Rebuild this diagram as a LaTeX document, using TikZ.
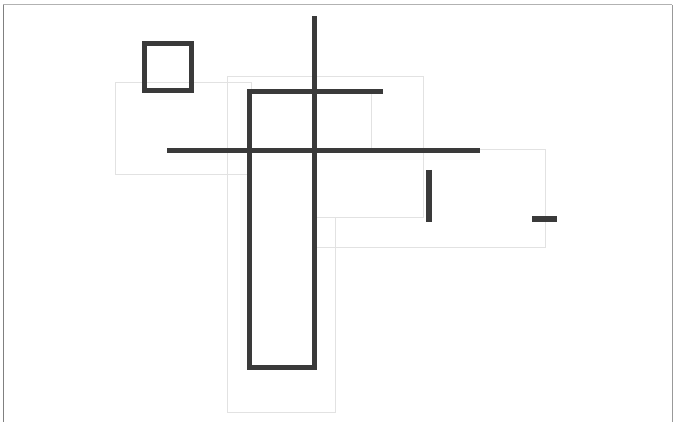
\documentclass[tikz,border=0pt]{standalone}
\usepackage{xcolor}
\usepackage{tikz}

\definecolor{inkgray}{HTML}{3A3A3A}
\definecolor{boxgray}{HTML}{E2E2E2}

\begin{document}
\begin{tikzpicture}[
  x=1pt, y=-1pt,
  stroke/.style={draw=inkgray, line width=5pt},
  bbox/.style={draw=boxgray, line width=0.7pt},
  frame/.style={line width=1pt},
]
\useasboundingbox (0,0) rectangle (675,422);

% outer frame
\draw[frame, draw=black!30] (3,5) -- (672,5);
\draw[frame, draw=black!50] (3,5) -- (3,422);
\draw[frame, draw=black!40] (672,5) -- (672,422);

% light guide boxes
\draw[bbox] (115,82) rectangle (251,174);
\draw[bbox] (316,217) -- (423,217) -- (423,76) -- (227,76) -- (227,412) -- (335,412) -- (335,217);
\draw[bbox] (371,92) -- (371,148);
\draw[bbox] (480,149) -- (545,149) -- (545,247) -- (315,247);

% strokes
\draw[stroke] (144,44) rectangle (191,91);
\draw[stroke, line join=miter] (383,92) -- (249,92) -- (249,367) -- (314,367) -- (314,16);
\draw[stroke] (167,151) -- (480,151);
\draw[stroke, line width=5.5pt] (429,170) -- (429,222);
\draw[stroke, line width=5.5pt] (532,219) -- (557,219);
\end{tikzpicture}
\end{document}
